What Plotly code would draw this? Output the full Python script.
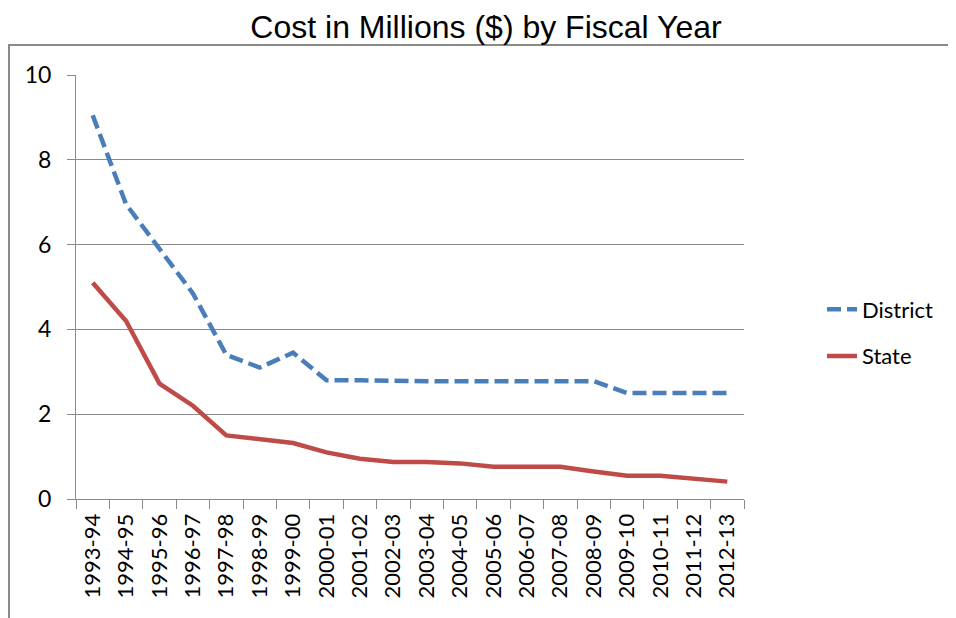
import plotly.graph_objects as go

years = ["1993-94", "1994-95", "1995-96", "1996-97", "1997-98", "1998-99", "1999-00",
         "2000-01", "2001-02", "2002-03", "2003-04", "2004-05", "2005-06", "2006-07",
         "2007-08", "2008-09", "2009-10", "2010-11", "2011-12", "2012-13"]
district = [9.05, 6.95, 5.9, 4.85, 3.4, 3.1, 3.45, 2.8, 2.8, 2.78, 2.78, 2.78, 2.78, 2.78,
            2.78, 2.78, 2.5, 2.5, 2.5, 2.5]
state = [5.1, 4.2, 2.72, 2.2, 1.5, 1.41, 1.32, 1.1, 0.95, 0.87, 0.87, 0.84, 0.76, 0.76,
         0.76, 0.65, 0.55, 0.55, 0.49, 0.41]
y_ticks = [0, 2, 4, 6, 8, 10]

W, H = 956, 618
OFF = 8  # page body margin
L, T = 76 - OFF, 75 - OFF
pw, ph = 668, 424
R, B = W - L - pw, H - T - ph

def px_x(x):
    return (x - OFF - L) / pw

def px_y(y):
    return (T + ph - (y - OFF)) / ph

fig = go.Figure()
fig.add_trace(go.Scatter(x=years, y=district, mode="lines", name="District",
                         legendgroup="d",
                         line=dict(color="#4A7EBB", width=4.5, dash="14px,6px")))
fig.add_trace(go.Scatter(x=years, y=state, mode="lines", name="State",
                         legendgroup="s",
                         line=dict(color="#BE4B48", width=4.5)))

frame = dict(color="#8A8A8A", width=2)
fig.add_shape(type="line", xref="paper", yref="paper",
              x0=px_x(9), x1=px_x(9), y0=px_y(45), y1=px_y(H + 20), line=frame)
fig.add_shape(type="line", xref="paper", yref="paper",
              x0=px_x(8), x1=px_x(W + 20), y0=px_y(45), y1=px_y(45), line=frame)

fig.update_layout(
    width=W, height=H,
    margin=dict(l=L, r=R, t=T, b=B),
    paper_bgcolor="white", plot_bgcolor="white",
    title=dict(text="Cost in Millions ($) by Fiscal Year",
               x=(486 - OFF) / W, xref="container", xanchor="center",
               y=1 - (27 - OFF) / H, yref="container", yanchor="middle",
               font=dict(family="Liberation Sans, Arial", size=32, color="#000000")),
    legend=dict(x=px_x(822), y=px_y(333), xanchor="left", yanchor="middle",
                font=dict(family="Lato", size=22, color="#000000"),
                tracegroupgap=15, bgcolor="rgba(0,0,0,0)"),
    showlegend=True,
)
fig.update_xaxes(
    type="category", tickangle=-90, tickson="boundaries",
    ticks="outside", ticklen=9, tickcolor="#8A8A8A",
    showline=True, linecolor="#8A8A8A", linewidth=1,
    showgrid=False, zeroline=False,
    tickfont=dict(family="Lato", size=22, color="#000000"),
    ticklabelstandoff=5,
    range=[-0.5, len(years) - 0.5],
)
fig.update_yaxes(
    range=[0, 10], tickvals=y_ticks, ticktext=[str(v) for v in y_ticks],
    ticks="outside", ticklen=8, tickcolor="#8A8A8A",
    showline=True, linecolor="#8A8A8A", linewidth=1,
    showgrid=True, gridcolor="#8A8A8A", gridwidth=1, zeroline=False,
    tickfont=dict(family="Lato", size=23, color="#000000"),
    ticklabelstandoff=11,
)

fig.write_html("out.html")
